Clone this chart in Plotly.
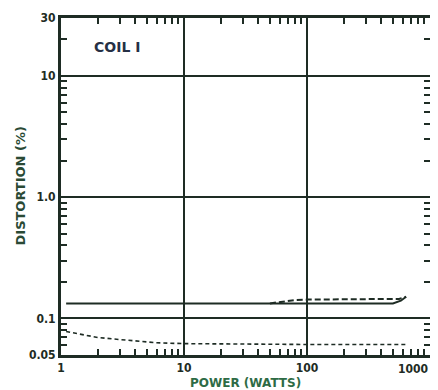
import plotly.graph_objects as go

# coil I distortion vs power
upper_solid_x = [1.1, 2, 5, 10, 20, 50, 100, 200, 350, 500, 580, 640]
upper_solid_y = [0.133, 0.133, 0.133, 0.133, 0.133, 0.133, 0.132, 0.132, 0.132, 0.133, 0.140, 0.151]

upper_dash_x = [50, 65, 80, 100, 200, 400, 560, 640]
upper_dash_y = [0.133, 0.139, 0.142, 0.143, 0.143, 0.143, 0.145, 0.151]

lower_dash_x = [1.1, 1.5, 2, 3, 4, 6, 10, 20, 50, 100, 200, 400, 650]
lower_dash_y = [0.078, 0.073, 0.0696, 0.067, 0.065, 0.063, 0.062, 0.0615, 0.061, 0.061, 0.061, 0.061, 0.0609]

x_ticks = [1, 10, 100, 1000]
x_labels = ["1", "10", "100", ""]   # "1000" drawn as an annotation so it stays inside the window
last_x_label = "1000"
y_ticks = [0.05, 0.1, 1, 10, 30]
y_labels = ["0.05", "0.1", "1.0", "10", "30"]

ink = "#1e2c24"
font = "DejaVu Sans Condensed, Liberation Sans Narrow, Arial"

fig = go.Figure()
fig.add_trace(go.Scatter(x=upper_solid_x, y=upper_solid_y, mode="lines",
                         line=dict(color=ink, width=2)))
fig.add_trace(go.Scatter(x=upper_dash_x, y=upper_dash_y, mode="lines",
                         line=dict(color=ink, width=2, dash="6px,3px")))
fig.add_trace(go.Scatter(x=lower_dash_x, y=lower_dash_y, mode="lines",
                         line=dict(color=ink, width=1.6, dash="4px,3px")))

minor_x = [m * d for d in (1, 10, 100) for m in range(2, 10)]
minor_y = [0.06, 0.07, 0.08, 0.09] + [m * d for d in (0.1, 1) for m in range(2, 10)] + [20]

axis_common = dict(type="log", showline=True, linecolor=ink, linewidth=3, mirror="allticks",
                   showgrid=True, gridcolor=ink, gridwidth=2, zeroline=False,
                   ticks="", tickmode="array", automargin=False,
                   tickfont=dict(family=font, size=12, color=ink, weight="bold"))

fig.update_xaxes(**axis_common, range=[-0.0004, 3.0004], tickvals=x_ticks, ticktext=x_labels,
                 minor=dict(tickmode="array", tickvals=minor_x, ticks="inside",
                            ticklen=6, tickwidth=1.5, tickcolor=ink, showgrid=False))
fig.update_yaxes(**axis_common, range=[-1.3014, 1.4775], tickvals=y_ticks, ticktext=y_labels,
                 minor=dict(tickmode="array", tickvals=minor_y, ticks="inside",
                            ticklen=6, tickwidth=1.5, tickcolor=ink, showgrid=False))

fig.add_annotation(x=1, y=0, xref="paper", yref="paper", xanchor="right", yanchor="middle",
                   xshift=0, yshift=-14, text=last_x_label, showarrow=False,
                   font=dict(family=font, size=12, color=ink, weight="bold"))
fig.add_annotation(x=0.5, y=0, xref="paper", yref="paper", yshift=-19, yanchor="top",
                   text="POWER (WATTS)", showarrow=False,
                   font=dict(family="DejaVu Sans, Arial", size=12, color="#2e6b45", weight="bold"))
fig.add_annotation(x=0, y=0.5, xref="paper", yref="paper", xshift=-41, xanchor="center",
                   text="DISTORTION (%)", textangle=-90, showarrow=False,
                   font=dict(family="DejaVu Sans, Arial", size=13, color="#2a4a35", weight="bold"))
fig.add_annotation(x=0.085, y=0.914, xref="paper", yref="paper", xanchor="left", yanchor="middle",
                   text="COIL I", showarrow=False,
                   font=dict(family="DejaVu Sans, Arial", size=14, color="#253045", weight="bold"))

# page body adds an 8px margin, so the figure is sized to fit inside the window
fig.update_layout(width=430, height=382, showlegend=False,
                  margin=dict(l=53, r=8, t=10, b=35),
                  plot_bgcolor="white", paper_bgcolor="white")

fig.write_html("out.html")
